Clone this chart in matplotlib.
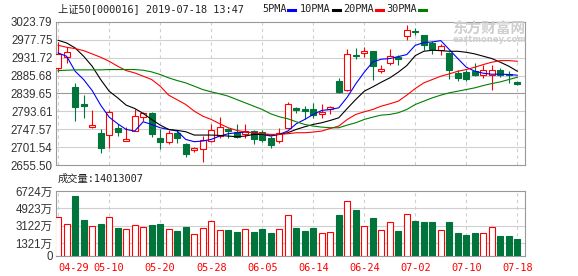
import matplotlib
matplotlib.use("Agg")
import matplotlib.pyplot as plt
from matplotlib.lines import Line2D
import numpy as np

# ---- data (SSE 50, daily) ----
dates = ["04-29", "04-30", "05-06", "05-07", "05-08", "05-09", "05-10",
         "05-13", "05-14", "05-15", "05-16", "05-17", "05-20", "05-21",
         "05-22", "05-23", "05-24", "05-27", "05-28", "05-29", "05-30",
         "05-31", "06-03", "06-04", "06-05", "06-06", "06-10", "06-11",
         "06-12", "06-13", "06-14", "06-17", "06-18", "06-19", "06-20",
         "06-21", "06-24", "06-25", "06-26", "06-27", "06-28", "07-01",
         "07-02", "07-03", "07-04", "07-05", "07-08", "07-09", "07-10",
         "07-11", "07-12", "07-15", "07-16", "07-17", "07-18"]

opens = [2906.0, 2933.9, 2855.9, 2813.1, 2753.1, 2738.6, 2732.6, 2751.4, 2717.2, 2742.9,
         2778.8, 2789.9, 2725.7, 2715.5, 2738.6, 2708.6, 2693.2, 2695.8, 2717.2, 2730.0,
         2747.1, 2741.2, 2736.0, 2742.9, 2741.2, 2724.0, 2717.2, 2751.4, 2801.1, 2798.5,
         2798.5, 2785.7, 2800.3, 2873.0, 2847.4, 2939.9, 2943.3, 2948.4, 2897.0, 2918.4,
         2933.0, 2987.0, 3001.5, 2991.3, 2969.8, 2952.7, 2944.1, 2892.7, 2895.3, 2897.0,
         2886.8, 2886.8, 2899.6, 2890.2, 2869.6]
highs = [2972.0, 2958.7, 2867.0, 2834.5, 2796.0, 2747.1, 2797.7, 2761.7, 2754.0, 2798.5,
         2792.5, 2791.7, 2748.9, 2744.6, 2742.9, 2712.9, 2702.6, 2730.0, 2760.0, 2779.7,
         2751.4, 2760.0, 2760.0, 2745.4, 2744.6, 2730.0, 2749.7, 2818.2, 2804.5, 2807.1,
         2815.6, 2813.1, 2807.1, 2879.9, 2955.3, 2957.0, 2958.7, 2950.1, 2914.2, 2955.3,
         2938.1, 3015.2, 3008.4, 2991.3, 2975.8, 2967.3, 2946.7, 2901.3, 2901.3, 2918.4,
         2914.2, 2914.2, 2905.6, 2897.0, 2873.0]
lows = [2896.0, 2918.4, 2768.6, 2775.4, 2751.4, 2685.4, 2698.3, 2730.0, 2716.3, 2742.0,
        2768.6, 2727.5, 2695.8, 2710.3, 2712.9, 2676.0, 2689.7, 2664.1, 2715.5, 2724.0,
        2724.0, 2725.7, 2724.0, 2710.3, 2715.5, 2700.0, 2712.9, 2749.7, 2790.0, 2772.8,
        2777.1, 2777.1, 2785.7, 2841.4, 2845.6, 2929.6, 2933.0, 2875.6, 2892.7, 2914.2,
        2912.5, 2978.4, 2991.3, 2952.7, 2941.6, 2938.1, 2878.2, 2871.3, 2871.3, 2884.2,
        2879.9, 2849.9, 2881.6, 2867.0, 2862.8]
closes = [2941.0, 2945.9, 2804.5, 2806.2, 2757.4, 2698.3, 2791.7, 2740.3, 2723.2, 2781.4,
          2789.9, 2734.3, 2714.6, 2738.6, 2724.0, 2684.6, 2700.0, 2719.7, 2745.4, 2753.1,
          2742.9, 2728.3, 2742.9, 2721.4, 2718.9, 2706.0, 2738.6, 2813.1, 2796.0, 2794.2,
          2784.0, 2792.5, 2804.5, 2843.1, 2941.6, 2935.6, 2950.1, 2909.9, 2903.9, 2935.6,
          2928.7, 3002.4, 2998.1, 2965.6, 2955.3, 2961.3, 2899.6, 2879.9, 2878.2, 2888.5,
          2901.3, 2901.3, 2888.5, 2886.8, 2864.5]

ma5 = [2944.1, 2935.6, 2897.0, 2875.6, 2847.4, 2809.7, 2778.8, 2761.7, 2747.1, 2742.9,
       2766.8, 2760.0, 2751.4, 2747.1, 2742.9, 2721.4, 2715.5, 2717.2, 2721.4, 2730.0,
       2736.0, 2738.6, 2740.3, 2738.6, 2734.3, 2730.0, 2734.3, 2742.9, 2761.7, 2772.8,
       2785.7, 2796.0, 2798.5, 2802.8, 2830.2, 2864.5, 2894.5, 2921.0, 2927.9, 2929.6,
       2934.7, 2939.9, 2963.8, 2970.7, 2972.4, 2975.8, 2952.7, 2929.6, 2907.3, 2897.0,
       2891.9, 2889.3, 2889.3, 2888.5, 2886.8]
ma10 = [2976.7, 2969.8, 2957.0, 2935.6, 2909.9, 2875.6, 2845.6, 2828.5, 2809.7, 2801.1,
        2788.3, 2772.8, 2758.3, 2747.1, 2744.6, 2741.2, 2732.6, 2732.6, 2732.6, 2731.7,
        2730.0, 2728.3, 2730.0, 2734.3, 2734.3, 2732.6, 2734.3, 2738.6, 2747.1, 2754.0,
        2760.0, 2764.3, 2770.3, 2777.1, 2801.1, 2824.2, 2845.6, 2856.8, 2868.8, 2879.9,
        2894.5, 2911.6, 2937.3, 2948.4, 2951.0, 2950.1, 2948.4, 2948.4, 2945.8, 2941.6,
        2935.6, 2929.6, 2920.2, 2909.9, 2897.0]
ma20 = [2963.8, 2958.7, 2955.3, 2950.1, 2941.6, 2933.0, 2922.7, 2909.9, 2898.7, 2892.7,
        2884.2, 2875.6, 2858.5, 2835.4, 2823.4, 2811.4, 2794.3, 2781.4, 2772.8, 2761.7,
        2751.4, 2744.6, 2740.3, 2738.6, 2736.0, 2734.3, 2734.3, 2736.0, 2738.6, 2738.6,
        2740.3, 2742.9, 2749.7, 2755.7, 2772.8, 2785.7, 2792.5, 2798.5, 2807.1, 2813.1,
        2819.9, 2835.4, 2852.5, 2867.0, 2875.6, 2884.2, 2890.2, 2897.0, 2901.3, 2907.3,
        2914.2, 2920.2, 2924.4, 2924.4, 2922.7]
ma30 = [2898.7, 2899.6, 2900.5, 2900.5, 2900.5, 2900.5, 2901.3, 2901.3, 2901.3, 2901.3,
        2899.6, 2895.3, 2888.5, 2879.9, 2873.0, 2867.0, 2858.5, 2849.9, 2843.9, 2838.8,
        2832.8, 2824.2, 2815.6, 2807.1, 2798.5, 2787.4, 2779.7, 2774.6, 2766.8, 2760.0,
        2755.7, 2753.1, 2751.4, 2751.4, 2758.3, 2764.3, 2772.8, 2778.8, 2784.0, 2785.7,
        2790.0, 2798.5, 2811.4, 2819.9, 2828.5, 2835.4, 2841.4, 2845.6, 2849.9, 2854.2,
        2860.2, 2865.3, 2869.6, 2875.6, 2881.6]

# volume, in 万
volume = [3986, 3362, 6204, 3709, 3154, 3293, 3986, 2877, 2842, 3258,
          3050, 3189, 3293, 2842, 2565, 2981, 2322, 2946, 3570, 2738,
          2669, 2461, 2842, 2461, 2773, 2357, 2842, 4194, 2890, 2588,
          2898, 2346, 2450, 4244, 5693, 4761, 3071, 3933, 2657, 3485,
          2588, 4313, 3623, 3519, 3519, 2657, 3519, 2381, 2174, 2381,
          2346, 2967, 2070, 2070, 1760]

price_ticks = [2655.50, 2701.54, 2747.57, 2793.61, 2839.65, 2885.68, 2931.72, 2977.75, 3023.79]
vol_ticks = [0, 1321, 3122, 4923, 6724]
vol_tick_labels = ["0", "1321万", "3122万", "4923万", "6724万"]
ma_names = ["5PMA", "10PMA", "20PMA", "30PMA"]

UP = "#ff0000"
DOWN = "#00743a"
GRID = "#d0d0d0"
FRAME = "#999999"
W, H = 578, 276


def fx(px):
    return px / W


def fy(py):
    return 1 - py / H


fig = plt.figure(figsize=(W / 100, H / 100), dpi=100)
ax = fig.add_axes([fx(56), fy(165), fx(525) - fx(56), fy(22) - fy(165)])
axv = fig.add_axes([fx(56), fy(256), fx(525) - fx(56), fy(191) - fy(256)])

x = np.arange(len(dates))
o, h, l, c = map(np.asarray, (opens, highs, lows, closes))
up = c >= o
colors = np.where(up, UP, DOWN)
faces = np.where(up, "white", DOWN)

# candles
ax.vlines(x, l, h, colors=colors, lw=0.8, zorder=2)
ax.bar(x, np.abs(c - o), bottom=np.minimum(o, c), width=0.68,
       color=faces, edgecolor=colors, lw=0.8, zorder=3)
for vals, col in zip((ma5, ma10, ma20, ma30), ("#0000ff", "#000000", "#ff0000", "#008000")):
    ax.plot(x, vals, color=col, lw=0.8, zorder=4)

# volume
axv.bar(x, volume, width=0.68, color=faces, edgecolor=colors, lw=0.8, zorder=3)

xlim = (-0.25, 54.9)
label_idx = list(range(0, len(dates), 6))
for a in (ax, axv):
    a.set_xlim(*xlim)
    for i in label_idx:
        a.axvline(i, color=GRID, lw=0.8, ls=(0, (3, 3)), zorder=1)
    for s in a.spines.values():
        s.set_color(FRAME)
        s.set_linewidth(0.8)
    a.tick_params(length=0, pad=2.5, labelsize=8.3, labelcolor="#333333")

ax.set_ylim(price_ticks[0], price_ticks[-1])
ax.set_yticks(price_ticks, [f"{v:.2f}" for v in price_ticks], family="Liberation Sans")
for v in price_ticks[1:-1]:
    ax.axhline(v, color=FRAME if v == price_ticks[4] else GRID, lw=0.8, zorder=1)
ax.set_xticks([])

axv.set_ylim(0, vol_ticks[-1])
axv.set_yticks(vol_ticks, vol_tick_labels, family=["Liberation Sans", "Noto Sans CJK SC"])
for v in vol_ticks[1:-1]:
    axv.axhline(v, color=GRID, lw=0.8, zorder=1)
axv.set_xticks(label_idx, [dates[i] for i in label_idx], family="DejaVu Sans Mono",
               fontsize=7.4, color=UP)
axv.tick_params(axis="x", pad=5, labelcolor=UP, labelsize=7.4)
axv.get_xticklabels()[0].set_ha("left")

mono = ["DejaVu Sans Mono", "Noto Sans CJK SC"]
fig.text(fx(58), fy(9), "上证50[000016] 2019-07-18 13:47", family=mono, fontsize=7.4,
         color="#222222", va="center")
fig.text(fx(58), fy(179), "成交量:14013007", family=mono, fontsize=7.4,
         color="#222222", va="center")

leg_x = [262, 300, 343, 386]
for name, lx, col in zip(ma_names, leg_x, ("#0000ff", "#000000", "#ff0000", "#008000")):
    t = fig.text(fx(lx), fy(9), name, family="DejaVu Sans Mono", fontsize=7.4,
                 color="#222222", va="center")
    end = lx + 6.1 * len(name) + 2
    fig.add_artist(Line2D([fx(end), fx(end + 7)], [fy(10), fy(10)], color=col, lw=2.2))

# watermark
fig.text(fx(489), fy(29), "东方财富网", family="Noto Sans CJK SC", fontsize=10.5,
         fontweight="bold", color="#cfcfcf", ha="center", va="center", zorder=5)
fig.text(fx(490), fy(40), "eastmoney.com", family="DejaVu Sans", fontsize=6,
         fontweight="bold", color="#cfcfcf", ha="center", va="center", zorder=5)

fig.savefig("out.png", dpi=100)
